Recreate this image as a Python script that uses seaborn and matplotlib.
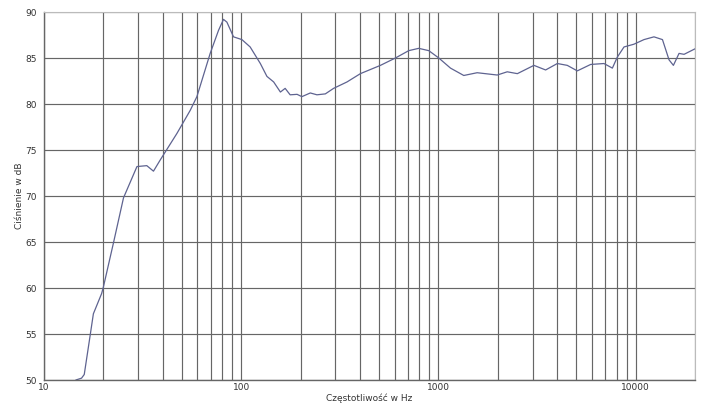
import numpy as np
import pandas as pd
import matplotlib
matplotlib.use("Agg")
import matplotlib.pyplot as plt
import matplotlib.ticker as mticker
import seaborn as sns

freq_hz = [14.5, 15.5, 16.0, 17.1, 17.8, 19.6, 20.0, 22.5, 25.3, 29.6, 33.2, 35.9,
           38.8, 47.2, 55.1, 59.6, 69.6, 76.7, 81.3, 84.6, 91.4, 100.8, 111, 125,
           135, 146, 158, 167, 177, 192, 203, 224, 242, 267, 294, 344, 402, 508,
           605, 707, 794, 893, 1004, 1151, 1344, 1571, 1986, 2232, 2512, 3048,
           3494, 4006, 4500, 5058, 5912, 6906, 7617, 8072, 8726, 9797, 11015,
           12380, 13670, 14760, 15530, 16590, 17590, 20000]
spl_db = [50.0, 50.2, 50.6, 54.7, 57.2, 59.4, 60.1, 64.9, 69.8, 73.2, 73.3, 72.7,
          73.9, 76.8, 79.3, 80.8, 85.5, 88.0, 89.2, 88.9, 87.3, 87.0, 86.2, 84.4,
          83.0, 82.4, 81.3, 81.7, 81.0, 81.05, 80.8, 81.2, 81.0, 81.1, 81.7, 82.4,
          83.3, 84.2, 85.0, 85.8, 86.05, 85.8, 85.0, 83.9, 83.1, 83.4, 83.15, 83.5,
          83.3, 84.2, 83.7, 84.4, 84.2, 83.6, 84.3, 84.4, 83.9, 85.1, 86.2, 86.5,
          87.0, 87.3, 87.0, 84.8, 84.2, 85.5, 85.4, 86.0]
y_ticks = [50, 55, 60, 65, 70, 75, 80, 85, 90]
x_labels = [10, 100, 1000, 10000]

sns.set_theme(style="white")
plt.rcParams["font.family"] = ["DejaVu Sans"]

df = pd.DataFrame({"freq": freq_hz, "spl": spl_db})

fig = plt.figure(figsize=(7.05, 4.11), dpi=100)
ax = fig.add_axes([0.0624, 0.0754, 0.9235, 0.8954])
sns.lineplot(data=df, x="freq", y="spl", ax=ax, color="#5e6390", linewidth=0.9)

ax.set_xscale("log")
ax.set_xlim(10, 20000)
ax.set_ylim(50, 90)
ax.xaxis.set_major_locator(mticker.FixedLocator(x_labels))
ax.xaxis.set_major_formatter(mticker.FixedFormatter([str(v) for v in x_labels]))
ax.xaxis.set_minor_locator(mticker.LogLocator(base=10, subs=np.arange(2, 10)))
ax.xaxis.set_minor_formatter(mticker.NullFormatter())
ax.set_yticks(y_ticks)

ax.grid(True, which="both", axis="x", color="#666666", linewidth=0.85)
ax.grid(True, which="major", axis="y", color="#666666", linewidth=0.85)
ax.tick_params(axis="both", which="major", labelsize=6.5, colors="#333333",
               length=3, width=0.8, pad=2)
ax.tick_params(axis="x", which="minor", length=0)
ax.tick_params(axis="x", which="major", length=0)

for side in ["left", "bottom"]:
    ax.spines[side].set_color("#666666")
    ax.spines[side].set_linewidth(1.0)
for side in ["top", "right"]:
    ax.spines[side].set_color("#bbbbbb")
    ax.spines[side].set_linewidth(0.8)

ax.set_xlabel("Częstotliwość w Hz", fontsize=6.5, color="#333333", labelpad=1)
ax.set_ylabel("Ciśnienie w dB", fontsize=6.5, color="#333333", labelpad=1)

fig.savefig("out.png", dpi=100)
